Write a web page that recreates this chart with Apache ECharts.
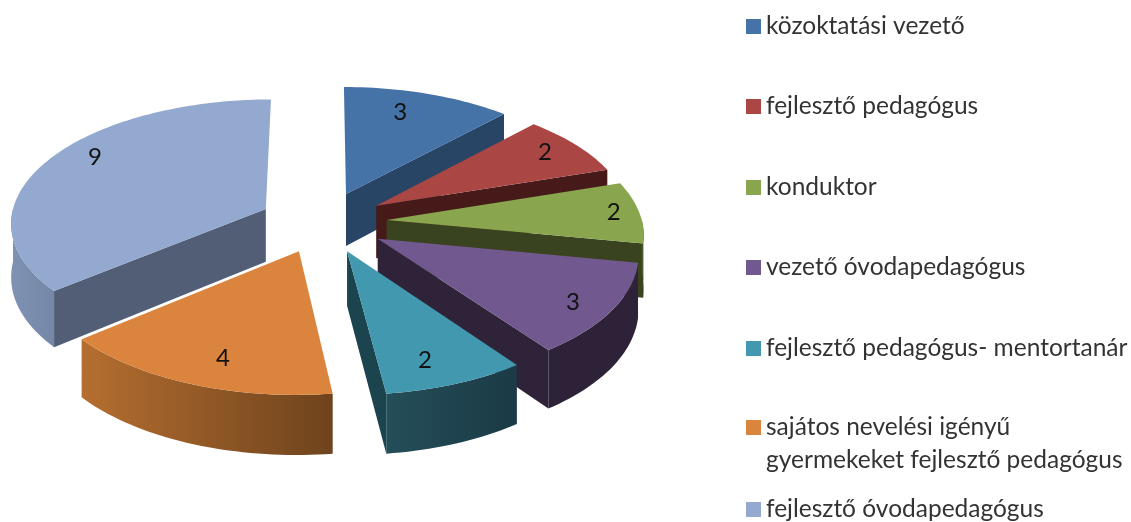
<!DOCTYPE html>
<html>
<head>
<meta charset="utf-8">
<script src="https://cdn.jsdelivr.net/npm/echarts@6/dist/echarts.min.js"></script>
<style>html,body{margin:0;padding:0;background:#fff}#c{width:1131px;height:522px}</style>
</head>
<body>
<div id="c"></div>
<script>
// --- data ---
const categories = [
  'közoktatási vezető',
  'fejlesztő pedagógus',
  'konduktor',
  'vezető óvodapedagógus',
  'fejlesztő pedagógus- mentortanár',
  'sajátos nevelési igényű gyermekeket fejlesztő pedagógus',
  'fejlesztő óvodapedagógus'
];
const values = [3, 2, 2, 3, 2, 4, 9];

// --- styles ---
const topColors  = ['#4572A7', '#AA4643', '#89A54E', '#71588F', '#4198AF', '#DB843D', '#93A9CF'];
const faceColors = ['#294566', '#451A18', '#3A431F', '#2E2338', '#1C444F', '#6E431D', '#525E75'];
const rimLeft    = ['#294566', '#451A18', '#4C5A29', '#2E2238', '#244E5A', '#B56E2F', '#8092B3'];
const rimRight   = ['#294566', '#451A18', '#4C5A29', '#2E2238', '#1B3A45', '#6E431D', '#7587A6'];

// --- layout: projection of the tilted pie ---
const cx = 323, cy = 222, rx = 255.5, ry = 123, persp = 0.1;
const explode = 0.25, depth0 = 53.3, depth1 = 5.5;
const labelNudge = [[-5,-10],[27,-10],[50,-2],[34,14],[4,19],[-2,17],[-17,-17]];
const legendTops = [10, 90, 171, 251, 332, 378, 493];
const legendText = ['', '', '', '', '', '\nsajátos nevelési igényű\ngyermekeket fejlesztő pedagógus', ''];

const total = values.reduce((a, b) => a + b, 0);
const RAD = Math.PI / 180;
let acc = 0;
const slices = values.map(v => {
  const a0 = acc / total * 360; acc += v;
  const a1 = acc / total * 360;
  const mid = (a0 + a1) / 2;
  return { a0, a1, mid, ax: explode * Math.sin(mid * RAD), ay: -explode * Math.cos(mid * RAD) };
});

function project(U, V, z) {
  const s = 1 / (1 - persp * V);
  return [cx + rx * U * s, cy + ry * V * s + z * (depth0 + depth1 * V)];
}
function rim(sl, deg, z, r) {
  const rr = r === undefined ? 1 : r;
  return project(sl.ax + rr * Math.sin(deg * RAD), sl.ay - rr * Math.cos(deg * RAD), z);
}
function arcPts(sl, from, to, z) {
  const out = [], n = Math.max(2, Math.ceil((to - from) / 1.5));
  for (let i = 0; i <= n; i++) out.push(rim(sl, from + (to - from) * i / n, z));
  return out;
}
function radialWall(sl, deg, color) {
  return { type: 'polygon', silent: true,
    shape: { points: [project(sl.ax, sl.ay, 0), rim(sl, deg, 0), rim(sl, deg, 1), project(sl.ax, sl.ay, 1)] },
    style: { fill: color } };
}

function makeRender(i) {
  return function () {
    const sl = slices[i], kids = [];
    if (Math.sin(sl.a0 * RAD) < -0.01) kids.push(radialWall(sl, sl.a0, faceColors[i]));
    if (Math.sin(sl.a1 * RAD) > 0.01) kids.push(radialWall(sl, sl.a1, faceColors[i]));
    const from = Math.max(sl.a0, 90), to = Math.min(sl.a1, 270);
    if (to > from) {
      kids.push({ type: 'polygon', silent: true,
        shape: { points: arcPts(sl, from, to, 0).concat(arcPts(sl, from, to, 1).reverse()) },
        style: { fill: new echarts.graphic.LinearGradient(0, 0, 1, 0, [
          { offset: 0, color: rimLeft[i] },
          { offset: 1, color: rimRight[i] }]) } });
    }
    kids.push({ type: 'polygon', silent: true,
      shape: { points: [project(sl.ax, sl.ay, 0)].concat(arcPts(sl, sl.a0, sl.a1, 0)) },
      style: { fill: topColors[i] } });
    const lp = rim(sl, sl.mid, 0, 0.7);
    kids.push({ type: 'text', silent: true, style: {
      text: String(values[i]), x: lp[0] + labelNudge[i][0], y: lp[1] + labelNudge[i][1],
      align: 'center', verticalAlign: 'middle', fill: '#111',
      font: '24px Lato' } });
    return { type: 'group', children: kids };
  };
}

const chart = echarts.init(document.getElementById('c'), null, { renderer: 'canvas' });
chart.setOption({
  animation: false,
  backgroundColor: '#fff',
  color: topColors,
  tooltip: { show: false },
  legend: categories.map((name, i) => ({
    data: [name], orient: 'vertical', left: 746, top: legendTops[i], padding: 0,
    itemWidth: 15, itemHeight: 15, icon: 'rect', selectedMode: false,
    formatter: () => legendText[i] || name,
    textStyle: { fontFamily: 'Lato', fontSize: 24.5, color: '#333', lineHeight: 33 }
  })),
  series: categories.map((name, i) => ({
    type: 'custom', name, coordinateSystem: 'none',
    z: 2 + slices.map(s => s.ay).sort((a, b) => a - b).indexOf(slices[i].ay),
    itemStyle: { color: topColors[i] },
    data: [[values[i]]],
    renderItem: makeRender(i)
  }))
});
</script>
</body>
</html>
